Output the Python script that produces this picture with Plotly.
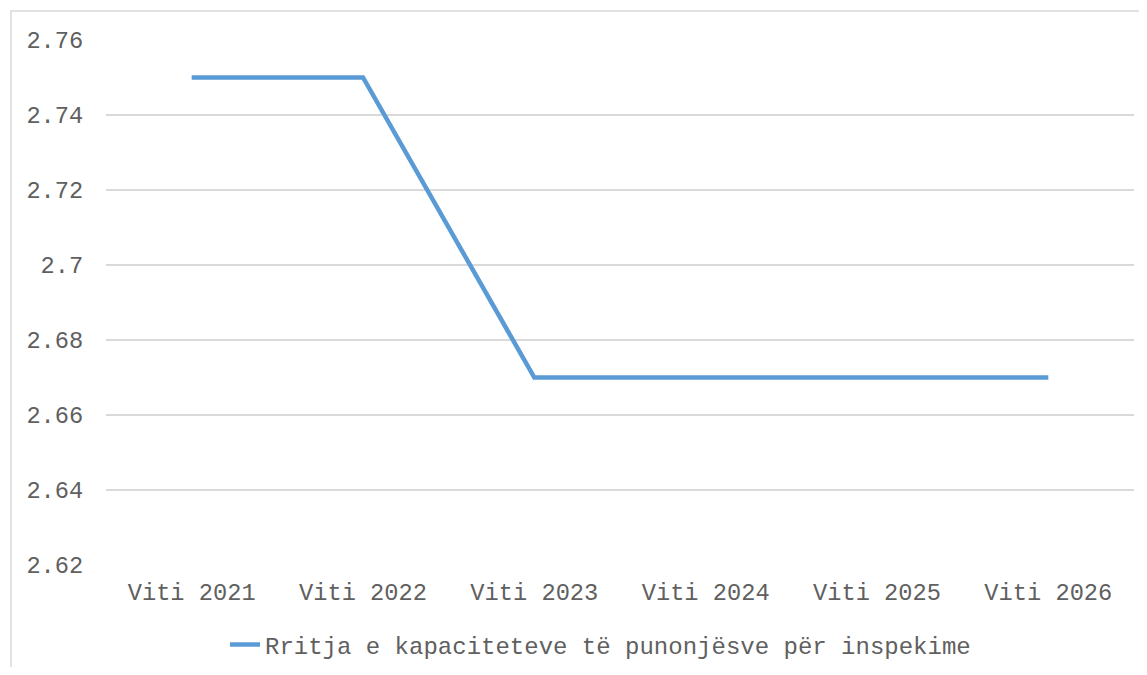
"""Line chart: Rritja e kapaciteteve të punonjësve për inspekime."""

import plotly.graph_objects as go

years = ["Viti 2021", "Viti 2022", "Viti 2023", "Viti 2024", "Viti 2025", "Viti 2026"]
values = [2.75, 2.75, 2.67, 2.67, 2.67, 2.67]
series_name = "Rritja e kapaciteteve të punonjësve për inspekime"
y_ticks = [2.62, 2.64, 2.66, 2.68, 2.70, 2.72, 2.74, 2.76]
y_tick_text = ["2.62", "2.64", "2.66", "2.68", "2.7", "2.72", "2.74", "2.76"]

# page body has an 8px margin, so the figure sits 8px in from the window edge
OFF = 8
W, H = 1147 - 2 * OFF, 675 - 2 * OFF
L, T = 106 - OFF, 40 - OFF
pw, ph = 1028, 525
R, B = W - L - pw, H - T - ph

font = dict(family="Liberation Mono, Courier New, monospace", size=23.7, color="#606060")
grid = "#D9D9D9"


def px_x(x):
    # window pixel -> paper x
    return (x - OFF - L) / pw


def px_y(y):
    # window pixel -> paper y
    return (T + ph - (y - OFF)) / ph


fig = go.Figure(
    go.Scatter(
        x=years,
        y=values,
        mode="lines",
        name=series_name,
        line=dict(color="#5B9BD5", width=4.5),
    )
)

fig.update_layout(
    width=W,
    height=H,
    margin=dict(l=L, r=R, t=T, b=B, autoexpand=False),
    paper_bgcolor="white",
    plot_bgcolor="white",
    font=font,
    showlegend=True,
    legend=dict(
        orientation="h",
        x=px_x(225),
        xanchor="left",
        y=px_y(645),
        yanchor="middle",
        font=dict(font, size=24),
    ),
    shapes=[
        dict(
            type="rect",
            xref="paper",
            yref="paper",
            x0=px_x(11),
            x1=px_x(1160),
            y0=px_y(690),
            y1=px_y(11),
            line=dict(color=grid, width=1.5),
            layer="below",
        )
    ],
)

fig.update_xaxes(
    range=[-0.5, len(years) - 0.5],
    showgrid=False,
    showline=False,
    zeroline=False,
    automargin=False,
    ticks="outside",
    ticklen=6,
    tickcolor="rgba(0,0,0,0)",
    tickfont=font,
)
fig.update_yaxes(
    range=[2.62, 2.76],
    tickvals=y_ticks,
    ticktext=y_tick_text,
    showgrid=True,
    gridcolor=grid,
    gridwidth=1.5,
    zeroline=False,
    showline=False,
    automargin=False,
    ticks="outside",
    ticklen=17,
    tickcolor="rgba(0,0,0,0)",
    tickfont=font,
)

fig.write_html("out.html")
